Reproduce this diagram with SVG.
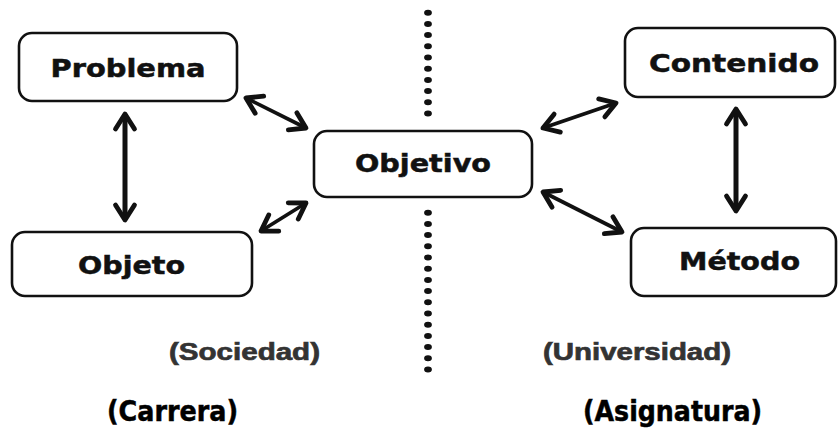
<svg xmlns="http://www.w3.org/2000/svg" width="838" height="432" viewBox="0 0 838 432">
<style>
.box{fill:#fff;stroke:#111;stroke-width:2.6}
.nt{font-family:"DejaVu Sans",Verdana,sans-serif;font-weight:bold;font-size:24px;fill:#111;stroke:#111;stroke-width:0.5;text-anchor:middle}
.sub{font-family:"Liberation Sans",Arial,sans-serif;font-weight:bold;font-size:24px;fill:#333;stroke:#333;stroke-width:0.7;text-anchor:middle}
.big{font-family:"DejaVu Sans Condensed","DejaVu Sans",sans-serif;font-weight:bold;font-size:29px;fill:#000;stroke:#000;stroke-width:0.5;text-anchor:middle}
.conn{stroke:#111;fill:none;marker-start:url(#ah);marker-end:url(#ah)}
.dots{stroke:#111;stroke-width:6;stroke-linecap:round;stroke-dasharray:0 11.2;fill:none}
</style>
<defs>
<marker id="ah" markerUnits="userSpaceOnUse" viewBox="-20 -13 26 26" refX="0" refY="0" markerWidth="26" markerHeight="26" orient="auto-start-reverse">
<path d="M-15,-9.5 L0,0 L-15,9.5" fill="none" stroke="#111" stroke-width="4.8" stroke-linecap="round" stroke-linejoin="round"/>
</marker>
</defs>
<rect width="838" height="432" fill="#fff"/>
<g id="divider" transform="translate(428,0) scale(1.3,1) translate(-428,0)">
<path class="dots" d="M428,12.7 V113.6"/>
<path class="dots" d="M428,212.7 V369.5"/>
</g>
<g id="connectors">
<line class="conn" x1="125" y1="114" x2="125" y2="220" stroke-width="5"/>
<line class="conn" x1="736" y1="109" x2="736" y2="211" stroke-width="5"/>
<line class="conn" x1="246" y1="98" x2="306" y2="128" stroke-width="3.8"/>
<line class="conn" x1="261" y1="231" x2="306" y2="203" stroke-width="3.8"/>
<line class="conn" x1="543" y1="128" x2="616" y2="103" stroke-width="3.8"/>
<line class="conn" x1="543" y1="192" x2="622" y2="232" stroke-width="3.8"/>
</g>
<g id="problema">
<rect class="box" x="19" y="33" width="218" height="68" rx="13"/>
<text class="nt" x="128" y="77" textLength="155" lengthAdjust="spacingAndGlyphs">Problema</text>
</g>
<g id="objeto">
<rect class="box" x="12" y="232" width="240" height="64" rx="13"/>
<text class="nt" x="131.5" y="274" textLength="107" lengthAdjust="spacingAndGlyphs">Objeto</text>
</g>
<g id="objetivo">
<rect class="box" x="314" y="131" width="218" height="66" rx="13"/>
<text class="nt" x="423" y="172" textLength="136" lengthAdjust="spacingAndGlyphs">Objetivo</text>
</g>
<g id="contenido">
<rect class="box" x="625" y="28" width="210" height="69" rx="13"/>
<text class="nt" x="734" y="72" textLength="170" lengthAdjust="spacingAndGlyphs">Contenido</text>
</g>
<g id="metodo">
<rect class="box" x="631" y="228" width="205" height="68" rx="13"/>
<text class="nt" x="739.5" y="270" textLength="121" lengthAdjust="spacingAndGlyphs">Método</text>
</g>
<g id="labels">
<text class="sub" x="244.5" y="360" textLength="151" lengthAdjust="spacingAndGlyphs">(Sociedad)</text>
<text class="sub" x="637" y="360" textLength="188" lengthAdjust="spacingAndGlyphs">(Universidad)</text>
<text class="big" x="172.5" y="421" textLength="131" lengthAdjust="spacingAndGlyphs">(Carrera)</text>
<text class="big" x="672.5" y="421" textLength="179" lengthAdjust="spacingAndGlyphs">(Asignatura)</text>
</g>
</svg>
